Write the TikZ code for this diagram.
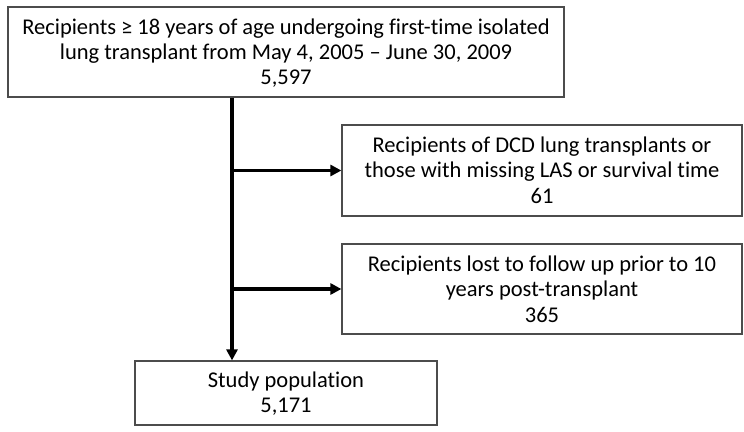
\documentclass[tikz,border=0pt]{standalone}
\usepackage{fontspec}
\setmainfont{Carlito}[Ligatures={NoCommon}]
\usetikzlibrary{arrows.meta}
\tikzset{
  box/.style={draw=black!70, line width=1.2pt, inner sep=0pt},
  txt/.style={align=flush center, text width=700pt, inner sep=0pt, anchor=base,
    font=\fontsize{22.5}{25.5}\selectfont},
  arr/.style={line width=3.6pt, -{Triangle[length=11pt,width=11pt]}},
}
\begin{document}
\begin{tikzpicture}[x=1pt,y=-1pt]
\useasboundingbox (0,0) rectangle (744,431);
\node[box, minimum width=556pt, minimum height=90pt] (top) at (286,52) {};
\node[txt] (toptxt) at (286,34)
  {Recipients ≥ 18 years of age undergoing first-time isolated\\lung transplant from May 4, 2005 – June 30, 2009\\5,597};
\node[box, minimum width=400pt, minimum height=91pt] (dcd) at (542,170.5) {};
\node[txt] (dcdtxt) at (542,152)
  {Recipients of DCD lung transplants or\\those with missing LAS or survival time\\61};
\node[box, minimum width=400pt, minimum height=90pt] (lost) at (542,289) {};
\node[txt] (losttxt) at (542,271)
  {Recipients lost to follow up prior to 10\\years post-transplant\\365};
\node[box, minimum width=302pt, minimum height=64pt] (study) at (286,393) {};
\node[txt] (studytxt) at (286,387)
  {Study population\\5,171};
\coordinate (spine) at (232,0);
\draw[arr] (top.south -| spine) -- (study.north -| spine);
\draw[arr] (dcd.west -| spine) -- (dcd.west);
\draw[arr] (lost.west -| spine) -- (lost.west);
\end{tikzpicture}
\end{document}
